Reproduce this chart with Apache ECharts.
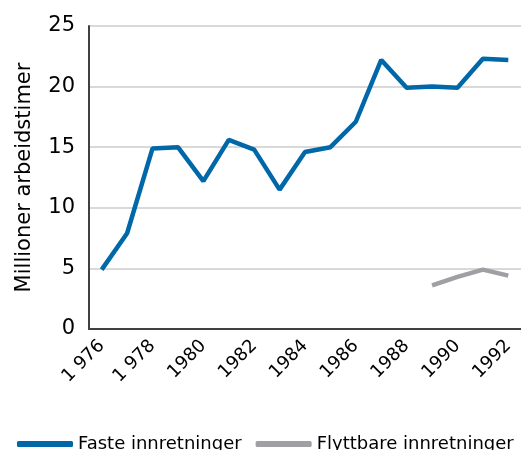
<!DOCTYPE html>
<html>
<head>
<meta charset="utf-8">
<script src="https://cdn.jsdelivr.net/npm/echarts@6/dist/echarts.min.js"></script>
<style>
  html, body { margin: 0; padding: 0; background: #fff; }
  #chart { width: 521px; height: 450px; }
</style>
</head>
<body>
<div id="chart"></div>
<script>
const years = ['1 976', '1 977', '1 978', '1979', '1980', '1981', '1982', '1983', '1984',
  '1985', '1986', '1987', '1988', '1989', '1990', '1991', '1992']
const faste = [4.9, 7.9, 14.9, 15.0, 12.2, 15.6, 14.8, 11.5, 14.6, 15.0, 17.1, 22.2, 19.9, 20.0, 19.9, 22.3, 22.2]
const flyttbare = [null, null, null, null, null, null, null, null, null, null, null, null, null, 3.6, 4.3, 4.9, 4.4]

const chart = echarts.init(document.getElementById('chart'))
const font = '"DejaVu Sans", sans-serif'
const option = {
  animation: false,
  textStyle: { fontFamily: font, color: '#000' },
  grid: { left: 89, right: 0, top: 26, bottom: 121 },
  legend: {
    bottom: -8,
    left: 12,
    itemWidth: 56,
    itemHeight: 6,
    itemGap: 14,
    icon: 'roundRect',
    textStyle: { fontSize: 18, fontFamily: font, color: '#000' },
    data: ['Faste innretninger', 'Flyttbare innretninger']
  },
  xAxis: {
    type: 'category',
    data: years,
    axisLine: { lineStyle: { color: '#404040', width: 2 } },
    axisTick: { show: false },
    axisLabel: { interval: 1, rotate: 45, fontSize: 18, color: '#000', margin: 14 }
  },
  yAxis: {
    type: 'value',
    min: 0,
    max: 25,
    interval: 5,
    name: 'Millioner arbeidstimer',
    nameLocation: 'middle',
    nameGap: 54,
    nameTextStyle: { fontSize: 21, color: '#000' },
    axisLine: { show: true, lineStyle: { color: '#404040', width: 2 } },
    axisLabel: { fontSize: 21, color: '#000', margin: 14 },
    splitLine: { lineStyle: { color: '#d9d9d9', width: 2 } }
  },
  series: [
    {
      name: 'Faste innretninger',
      type: 'line',
      data: faste,
      symbol: 'none',
      lineStyle: { width: 4.5, color: '#0067a8' },
      itemStyle: { color: '#0067a8' }
    },
    {
      name: 'Flyttbare innretninger',
      type: 'line',
      data: flyttbare,
      symbol: 'none',
      lineStyle: { width: 4.5, color: '#a0a0a4' },
      itemStyle: { color: '#a0a0a4' }
    }
  ]
}
chart.setOption(option)
</script>
</body>
</html>
